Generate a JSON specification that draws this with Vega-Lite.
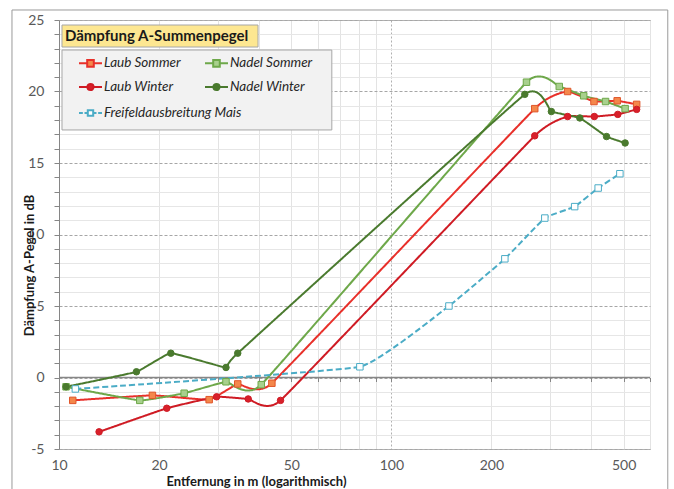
{
  "$schema": "https://vega.github.io/schema/vega-lite/v6.json",
  "width": 591,
  "height": 429,
  "autosize": {"type": "none"},
  "padding": {"left": 59, "top": 20, "right": 24, "bottom": 40},
  "background": "#ffffff",
  "config": {
    "font": "Lato",
    "view": {"stroke": "#b3b3b3", "strokeWidth": 1},
    "axis": {"labelFont": "Lato", "titleFont": "Lato"},
    "legend": {"labelFont": "Lato", "labelFontSize": 13.5, "labelFontStyle": "italic", "labelColor": "#262626"}
  },
  "data": {
    "values": [
      {"s": "Laub Sommer", "d": 11.0, "v": -1.6},
      {"s": "Laub Sommer", "d": 19.1, "v": -1.25},
      {"s": "Laub Sommer", "d": 28.3, "v": -1.55},
      {"s": "Laub Sommer", "d": 34.5, "v": -0.45},
      {"s": "Laub Sommer", "d": 43.7, "v": -0.4},
      {"s": "Laub Sommer", "d": 270, "v": 18.8},
      {"s": "Laub Sommer", "d": 339, "v": 20.0},
      {"s": "Laub Sommer", "d": 407, "v": 19.3},
      {"s": "Laub Sommer", "d": 478, "v": 19.35},
      {"s": "Laub Sommer", "d": 547, "v": 19.1},

      {"s": "Nadel Sommer", "d": 10.5, "v": -0.65},
      {"s": "Nadel Sommer", "d": 17.5, "v": -1.6},
      {"s": "Nadel Sommer", "d": 23.8, "v": -1.1},
      {"s": "Nadel Sommer", "d": 31.8, "v": -0.3},
      {"s": "Nadel Sommer", "d": 40.6, "v": -0.5},
      {"s": "Nadel Sommer", "d": 255, "v": 20.65},
      {"s": "Nadel Sommer", "d": 320, "v": 20.35},
      {"s": "Nadel Sommer", "d": 379, "v": 19.7},
      {"s": "Nadel Sommer", "d": 441, "v": 19.3},
      {"s": "Nadel Sommer", "d": 505, "v": 18.8},

      {"s": "Laub Winter", "d": 13.2, "v": -3.8},
      {"s": "Laub Winter", "d": 21.1, "v": -2.15},
      {"s": "Laub Winter", "d": 29.8, "v": -1.35},
      {"s": "Laub Winter", "d": 37.1, "v": -1.5},
      {"s": "Laub Winter", "d": 46.4, "v": -1.6},
      {"s": "Laub Winter", "d": 270, "v": 16.9},
      {"s": "Laub Winter", "d": 339, "v": 18.25},
      {"s": "Laub Winter", "d": 408, "v": 18.25},
      {"s": "Laub Winter", "d": 480, "v": 18.4},
      {"s": "Laub Winter", "d": 547, "v": 18.75},

      {"s": "Nadel Winter", "d": 10.5, "v": -0.65},
      {"s": "Nadel Winter", "d": 17.1, "v": 0.4},
      {"s": "Nadel Winter", "d": 21.7, "v": 1.7},
      {"s": "Nadel Winter", "d": 31.8, "v": 0.7},
      {"s": "Nadel Winter", "d": 34.5, "v": 1.7},
      {"s": "Nadel Winter", "d": 252, "v": 19.8},
      {"s": "Nadel Winter", "d": 303, "v": 18.6},
      {"s": "Nadel Winter", "d": 369, "v": 18.15},
      {"s": "Nadel Winter", "d": 444, "v": 16.85},
      {"s": "Nadel Winter", "d": 505, "v": 16.4},

      {"s": "Freifeldausbreitung  Mais", "d": 11.2, "v": -0.8},
      {"s": "Freifeldausbreitung  Mais", "d": 80.4, "v": 0.75},
      {"s": "Freifeldausbreitung  Mais", "d": 149, "v": 5.0},
      {"s": "Freifeldausbreitung  Mais", "d": 219.5, "v": 8.3},
      {"s": "Freifeldausbreitung  Mais", "d": 289.5, "v": 11.15},
      {"s": "Freifeldausbreitung  Mais", "d": 356, "v": 11.95},
      {"s": "Freifeldausbreitung  Mais", "d": 419, "v": 13.25},
      {"s": "Freifeldausbreitung  Mais", "d": 487, "v": 14.25}
    ]
  },
  "resolve": {
    "axis": {"x": "independent", "y": "independent"},
    "scale": {"shape": "independent", "fill": "independent", "stroke": "independent", "size": "independent"},
    "legend": {"shape": "independent", "fill": "independent", "stroke": "independent"}
  },
  "layer": [
    {
      "data": {"values": [{}]},
      "mark": {"type": "rect", "fill": null, "stroke": "#9a9a9a", "strokeWidth": 1},
      "encoding": {
        "x": {"datum": 7.22, "type": "quantitative", "scale": {"type": "log", "domain": [10, 600], "nice": false}, "axis": null},
        "x2": {"datum": 678.6},
        "y": {"datum": 25.7, "type": "quantitative", "scale": {"domain": [-5, 25], "nice": false, "zero": false}, "axis": null},
        "y2": {"datum": -8.0}
      }
    },
    {
      "data": {"values": [{}]},
      "mark": {"type": "rect", "fill": "#f2f2f2", "stroke": "#a6a6a6", "strokeWidth": 1},
      "encoding": {
        "x": {"datum": 10.21, "type": "quantitative", "axis": null},
        "x2": {"datum": 66.2},
        "y": {"datum": 22.9, "type": "quantitative", "axis": null},
        "y2": {"datum": 17.31}
      }
    },
    {
      "data": {"values": [{}]},
      "mark": {"type": "rect", "fill": "#fde791", "stroke": "#a6a6a6", "strokeWidth": 1},
      "encoding": {
        "x": {"datum": 10.21, "type": "quantitative", "axis": null},
        "x2": {"datum": 39.7},
        "y": {"datum": 24.65, "type": "quantitative", "axis": null},
        "y2": {"datum": 23.11}
      }
    },
    {
      "data": {"values": [{}]},
      "mark": {"type": "text", "text": "Dämpfung A-Summenpegel", "font": "Lato", "fontWeight": "bold", "fontSize": 15, "color": "#1a1a1a", "align": "left", "baseline": "middle"},
      "encoding": {
        "x": {"datum": 10.42, "type": "quantitative", "axis": null},
        "y": {"datum": 23.88, "type": "quantitative", "axis": null}
      }
    },
    {
      "data": {"values": [{}]},
      "mark": {"type": "rule", "color": "#868686", "strokeWidth": 1.5},
      "encoding": {
        "y": {"datum": 0, "type": "quantitative", "axis": null}
      }
    },
    {
      "mark": {"type": "line", "interpolate": "cardinal", "tension": 0.7},
      "encoding": {
        "x": {
          "field": "d", "type": "quantitative",
          "axis": {
            "title": "Entfernung in m (logarithmisch)",
            "values": [10, 20, 30, 40, 50, 60, 70, 80, 90, 100, 200, 300, 400, 500, 600],
            "labelExpr": "indexof([10, 20, 50, 100, 200, 500], datum.value) >= 0 ? '' + datum.value : ''",
            "labelFontSize": 14, "labelColor": "#595959", "labelPadding": 9, "labelFlush": false,
            "ticks": false, "domain": false,
            "grid": true,
            "gridColor": {"condition": {"test": "datum.value === 100", "value": "#b0b0b0"}, "value": "#e3e3e3"},
            "gridDash": {"condition": {"test": "datum.value === 100", "value": [2, 2]}, "value": []},
            "titleFontSize": 13, "titleFontWeight": "bold", "titleColor": "#1a1a1a",
            "titleAnchor": "middle", "titleX": 197, "titleY": 32, "titleBaseline": "middle"
          }
        },
        "y": {
          "field": "v", "type": "quantitative",
          "axis": {
            "title": "Dämpfung A-Pegel in dB",
            "values": [-5, -4, -3, -2, -1, 0, 1, 2, 3, 4, 5, 6, 7, 8, 9, 10, 11, 12, 13, 14, 15, 16, 17, 18, 19, 20, 21, 22, 23, 24, 25],
            "labelExpr": "datum.value % 5 === 0 ? '' + datum.value : ''",
            "labelFontSize": 14, "labelColor": "#595959", "labelPadding": 10,
            "tickSize": 5, "tickColor": "#868686", "domainColor": "#868686",
            "grid": true,
            "gridColor": {"condition": {"test": "datum.value % 5 === 0", "value": "#a6a6a6"}, "value": "#e6e6e6"},
            "gridDash": {"condition": {"test": "datum.value % 5 === 0", "value": [3, 2]}, "value": []},
            "titleFontSize": 13, "titleFontWeight": "bold", "titleColor": "#1a1a1a",
            "titleAngle": 270, "titleX": -30, "titleY": 245, "titleAlign": "center", "titleBaseline": "middle"
          }
        },
        "color": {
          "field": "s", "type": "nominal",
          "scale": {
            "domain": ["Laub Sommer", "Nadel Sommer", "Laub Winter", "Nadel Winter", "Freifeldausbreitung  Mais"],
            "range": ["#e8302a", "#6ea84a", "#cf1b24", "#4a7a2e", "#4bacc6"]
          },
          "legend": null
        },
        "strokeDash": {
          "field": "s", "type": "nominal",
          "scale": {
            "domain": ["Laub Sommer", "Nadel Sommer", "Laub Winter", "Nadel Winter", "Freifeldausbreitung  Mais"],
            "range": [[1, 0], [1, 0], [1, 0], [1, 0], [6, 3]]
          },
          "legend": null
        },
        "strokeWidth": {
          "field": "s", "type": "nominal",
          "scale": {
            "domain": ["Laub Sommer", "Nadel Sommer", "Laub Winter", "Nadel Winter", "Freifeldausbreitung  Mais"],
            "range": [2, 2, 2, 2, 2.5]
          },
          "legend": null
        }
      }
    },
    {
      "mark": {"type": "point", "filled": true, "strokeWidth": 1, "opacity": 1},
      "encoding": {
        "x": {
          "field": "d", "type": "quantitative",
          "axis": {
            "orient": "bottom", "offset": -71.5, "title": null,
            "values": [10, 20, 30, 40, 50, 60, 70, 80, 90, 100, 200, 300, 400, 500, 600],
            "labels": false, "domain": false, "grid": false,
            "ticks": true, "tickSize": 4, "tickColor": "#868686"
          }
        },
        "y": {"field": "v", "type": "quantitative", "axis": null},
        "shape": {
          "field": "s", "type": "nominal",
          "scale": {
            "domain": ["Laub Sommer", "Nadel Sommer", "Laub Winter", "Nadel Winter", "Freifeldausbreitung  Mais"],
            "range": ["square", "square", "circle", "circle", "square"]
          },
          "legend": null
        },
        "fill": {
          "field": "s", "type": "nominal",
          "scale": {
            "domain": ["Laub Sommer", "Nadel Sommer", "Laub Winter", "Nadel Winter", "Freifeldausbreitung  Mais"],
            "range": ["#f4874b", "#a8d08d", "#d8202a", "#4a7a2e", "#ffffff"]
          },
          "legend": null
        },
        "stroke": {
          "field": "s", "type": "nominal",
          "scale": {
            "domain": ["Laub Sommer", "Nadel Sommer", "Laub Winter", "Nadel Winter", "Freifeldausbreitung  Mais"],
            "range": ["#e0562a", "#6ea84a", "#cf1b24", "#4a7a2e", "#4bacc6"]
          },
          "legend": null
        },
        "size": {
          "field": "s", "type": "nominal",
          "scale": {
            "domain": ["Laub Sommer", "Nadel Sommer", "Laub Winter", "Nadel Winter", "Freifeldausbreitung  Mais"],
            "range": [42, 42, 32, 32, 22]
          },
          "legend": null
        }
      }
    },
    {
      "data": {"values": [{}]},
      "transform": [{"filter": "false"}],
      "mark": {"type": "point", "filled": true, "size": 484, "strokeWidth": 2, "opacity": 1},
      "encoding": {
        "shape": {
          "field": "s", "type": "nominal",
          "scale": {
            "domain": ["Laub Sommer", "Nadel Sommer", "Laub Winter", "Nadel Winter"],
            "range": [
              "M0,0H0.745M1.345,0H2.09M0.745,-0.3H1.345V0.3H0.745Z",
              "M0,0H0.745M1.345,0H2.09M0.745,-0.3H1.345V0.3H0.745Z",
              "M0,0H0.765M1.325,0H2.09M1.325,0A0.28,0.28 0 1,1 0.765,0A0.28,0.28 0 1,1 1.325,0Z",
              "M0,0H0.765M1.325,0H2.09M1.325,0A0.28,0.28 0 1,1 0.765,0A0.28,0.28 0 1,1 1.325,0Z"
            ]
          },
          "legend": {
            "orient": "none", "legendX": 8, "legendY": 31, "title": null,
            "columns": 2, "direction": "horizontal", "padding": 0,
            "symbolSize": 484, "symbolStrokeWidth": 2, "symbolOpacity": 1,
            "labelOffset": 13, "rowPadding": 4, "columnPadding": 12
          }
        },
        "fill": {
          "field": "s", "type": "nominal",
          "scale": {
            "domain": ["Laub Sommer", "Nadel Sommer", "Laub Winter", "Nadel Winter"],
            "range": ["#f4874b", "#a8d08d", "#d8202a", "#4a7a2e"]
          },
          "legend": {
            "orient": "none", "legendX": 8, "legendY": 31, "title": null,
            "columns": 2, "direction": "horizontal", "padding": 0,
            "symbolSize": 484, "symbolStrokeWidth": 2, "symbolOpacity": 1,
            "labelOffset": 13, "rowPadding": 4, "columnPadding": 12
          }
        },
        "stroke": {
          "field": "s", "type": "nominal",
          "scale": {
            "domain": ["Laub Sommer", "Nadel Sommer", "Laub Winter", "Nadel Winter"],
            "range": ["#e8302a", "#6ea84a", "#cf1b24", "#4a7a2e"]
          },
          "legend": {
            "orient": "none", "legendX": 8, "legendY": 31, "title": null,
            "columns": 2, "direction": "horizontal", "padding": 0,
            "symbolSize": 484, "symbolStrokeWidth": 2, "symbolOpacity": 1,
            "labelOffset": 13, "rowPadding": 4, "columnPadding": 12
          }
        }
      }
    },
    {
      "data": {"values": [{}]},
      "transform": [{"filter": "false"}],
      "mark": {"type": "point", "filled": true, "size": 484, "strokeWidth": 2, "opacity": 1},
      "encoding": {
        "shape": {
          "field": "s", "type": "nominal",
          "scale": {
            "domain": ["Freifeldausbreitung  Mais"],
            "range": ["M0,0H0.35M0.5,0H0.8M1.29,0H1.59M1.74,0H2.09M0.8,-0.245H1.29V0.245H0.8Z"]
          },
          "legend": {
            "orient": "none", "legendX": 8, "legendY": 81, "title": null, "padding": 0,
            "symbolSize": 484, "symbolStrokeWidth": 2, "symbolOpacity": 1, "labelOffset": 13
          }
        },
        "fill": {
          "field": "s", "type": "nominal",
          "scale": {"domain": ["Freifeldausbreitung  Mais"], "range": ["#ffffff"]},
          "legend": {
            "orient": "none", "legendX": 8, "legendY": 81, "title": null, "padding": 0,
            "symbolSize": 484, "symbolStrokeWidth": 2, "symbolOpacity": 1, "labelOffset": 13
          }
        },
        "stroke": {
          "field": "s", "type": "nominal",
          "scale": {"domain": ["Freifeldausbreitung  Mais"], "range": ["#4bacc6"]},
          "legend": {
            "orient": "none", "legendX": 8, "legendY": 81, "title": null, "padding": 0,
            "symbolSize": 484, "symbolStrokeWidth": 2, "symbolOpacity": 1, "labelOffset": 13
          }
        }
      }
    }
  ]
}
